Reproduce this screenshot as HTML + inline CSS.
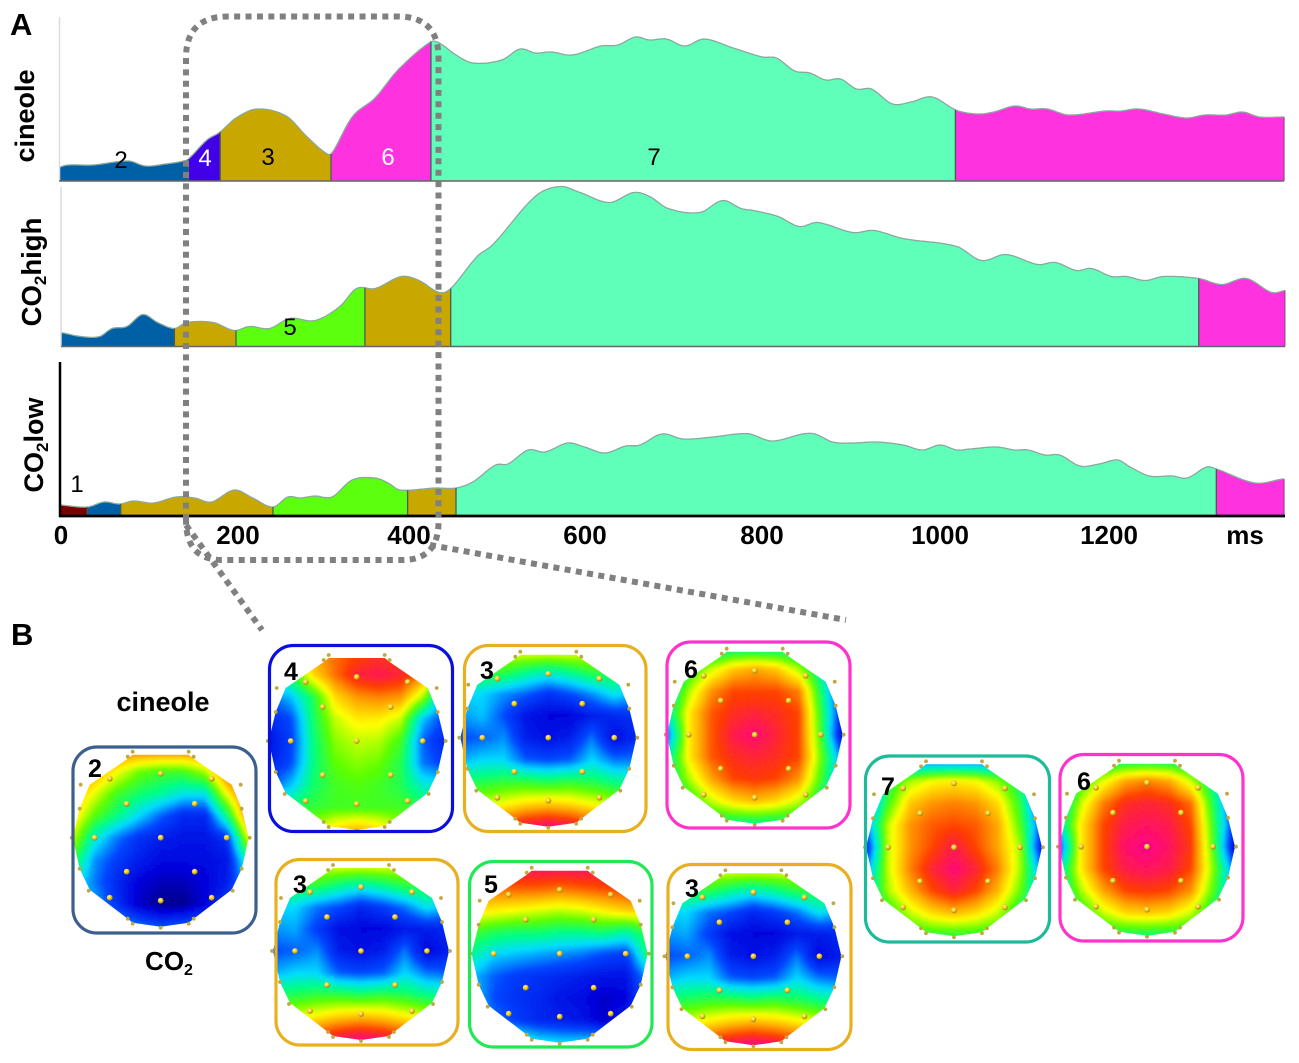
<!DOCTYPE html>
<html lang="en">
<head>
<meta charset="utf-8">
<title>ERP segments and topographic maps</title>
<style>
html,body{margin:0;padding:0;background:#fff;}
svg{display:block;font-family:"Liberation Sans",sans-serif;}
</style>
</head>
<body>
<svg id="figure" xmlns="http://www.w3.org/2000/svg" width="1299" height="1063" viewBox="0 0 1299 1063">
  <defs>
    <filter id="soften" x="-5%" y="-5%" width="110%" height="110%"><feGaussianBlur stdDeviation="1.3"/></filter>
    <filter id="softenLine" x="-2%" y="-2%" width="104%" height="104%"><feGaussianBlur stdDeviation="0.35"/></filter>
    <radialGradient id="dotInner" cx="40%" cy="35%" r="70%"><stop offset="0" stop-color="#fff6a0"/><stop offset="0.5" stop-color="#f0c820"/><stop offset="1" stop-color="#8a7010"/></radialGradient>
  </defs>
  <g id="panels"></g>
  <g id="axes">
    <line x1="59.5" y1="17" x2="59.5" y2="181" stroke="#dcdcdc" stroke-width="1.5"/>
    <line x1="61" y1="187" x2="61" y2="346" stroke="#dcdcdc" stroke-width="1.5"/>
    <line x1="60" y1="362" x2="60" y2="517" stroke="#000" stroke-width="2.5"/>
    <line x1="59" y1="181" x2="1284" y2="181" stroke="#666" stroke-width="1.5"/>
    <line x1="61" y1="346.5" x2="1285" y2="346.5" stroke="#666" stroke-width="1.5"/>
    <line x1="59" y1="516" x2="1285" y2="516" stroke="#000" stroke-width="2.8"/>
  </g>
  <g id="ticks" font-size="26" font-weight="700" text-anchor="middle"></g>
  <text x="1245" y="544" font-size="26" font-weight="700" text-anchor="middle">ms</text>

  <text x="10" y="35" font-size="31" font-weight="700">A</text>
  <text x="11" y="645" font-size="31" font-weight="700">B</text>

  <text transform="translate(34 116) rotate(-90)" font-size="27" font-weight="700" text-anchor="middle">cineole</text>
  <text transform="translate(41 272) rotate(-90)" font-size="27.5" font-weight="700" text-anchor="middle">CO<tspan font-size="17" dy="5">2</tspan><tspan dy="-5">high</tspan></text>
  <text transform="translate(43 445) rotate(-90)" font-size="27" font-weight="700" text-anchor="middle">CO<tspan font-size="17" dy="5">2</tspan><tspan dy="-5">low</tspan></text>

  <g font-size="24" text-anchor="middle">
    <text x="121" y="168">2</text>
    <text x="205" y="166" fill="#fff">4</text>
    <text x="268" y="165">3</text>
    <text x="388" y="165" fill="#fff">6</text>
    <text x="654" y="165">7</text>
    <text x="290" y="335">5</text>
    <text x="77" y="492">1</text>
  </g>

  <g fill="none" stroke="#808080" stroke-width="6" stroke-dasharray="6 5.4">
    <path d="M186 520 L186 58 Q186 16.5 228 16.5 L398 16.5 Q438.5 16.5 438.5 58 L438.5 522 Q438.5 560 402 560 L222 560 Q186 560 186 520"/>
    <line x1="186" y1="525" x2="262" y2="630"/>
    <line x1="430" y1="545" x2="846" y2="620"/>
  </g>

  <text x="163" y="711" font-size="27" font-weight="700" text-anchor="middle">cineole</text>
  <text x="169" y="970" font-size="26" font-weight="700" text-anchor="middle">CO<tspan font-size="16" dy="5">2</tspan></text>

  <g id="maps"></g>
</svg>

<script>
// ---------- waveform data (time in ms, amplitude in arbitrary units) ----------
const cineoleMs  = [0,9,37,78,97,120,141,146,167,182,200,224,257,281,302,309,332,358,384,421,431,450,469,502,523,540,558,582,615,634,654,670,689,710,732,765,798,814,835,852,870,887,905,922,946,967,991,1018,1042,1061,1085,1103,1122,1146,1188,1205,1226,1254,1280,1301,1325,1344,1363,1391];
const cineoleAmp = [7,8,8,10,7.5,8.5,10,11,20.5,24.5,31.5,36,32.5,22,14,14,32,41.5,55.5,69.5,69,63,59,60.5,66,64,64.5,63,67.5,68,72,70.5,71,67.5,71,66.5,62,61.5,55,54,50.5,51,46,46,38.5,39.5,42,35.5,33.5,34.5,37.5,36,36,33,35,35,36,33.5,31.5,33,33,34.5,32,32];
const cineoleBreaks = [0,146,182,308,421.5,1017.5,1391];
const cineoleStates = ["blue","purple","gold","magenta","teal","magenta"];

const highMs  = [1,24,45,59,76,94,111,130,144,174,198,215,238,261,290,318,337,358,388,408,431,444,474,492,540,568,591,624,652,670,691,727,753,774,788,816,840,861,901,925,958,1019,1047,1075,1111,1131,1155,1172,1195,1212,1233,1254,1294,1320,1348,1377,1392];
const highAmp = [7,5,5,9,10,16,12,9,12,12,8,10,9,14,13,20,29,29,35,33,27,29,45,51,75,80,77,72,77,75,69,67,73,69,68,65,60,62,57,58,54,50,43,46,41,42,38,39,35,35,33,35,34,31,34,27,28];
const highBreaks = [1,130,200,346.5,444,1294,1392];
const highStates = ["blue","gold","green","gold","teal","magenta"];

const lowMs  = [0,31,50,68,83,106,132,153,172,198,219,242,259,273,290,309,332,358,373,386,426,450,469,495,509,532,551,577,596,619,643,659,684,708,742,769,784,809,844,858,878,901,928,958,980,1000,1019,1034,1064,1085,1100,1119,1136,1159,1181,1202,1216,1238,1264,1281,1303,1314,1358,1389];
const lowAmp = [5.5,4.5,7,6,7.5,6.5,9.5,9,7,13,9,4.5,9.5,9,10,9.5,18,19,16.5,13,14,14,17,25.5,26,33,32,36.5,34.5,31.5,35,35.5,41,38.5,39.5,41,41,37.5,41,41,37,36.5,37,35.5,33,35.5,33,33.5,34.5,33,33,30.5,30.5,25,26,28,24.5,20,20,19,24.5,23.5,16.5,18.5];
const lowBreaks = [0,31,69,242,395,450,1314,1391];
const lowStates = ["darkred","blue","gold","green","gold","teal","magenta"];

const tickValues = [0,200,400,600,800,1000,1200];
const tickLabels = ["0","200","400","600","800","1000","1200"];

// ---------- topography data: 9x9 interpolated potential grids, 0 (navy) to 100 (pink) ----------
const grid2 = [
 [82,82,82,82,82,82,82,82,82],
 [80,76,66,56,52,52,60,84,88],
 [76,64,52,46,42,36,36,66,88],
 [70,54,44,34,24,16,16,44,84],
 [62,38,26,18,14,12,12,18,66],
 [50,28,20,14,10,10,10,12,44],
 [38,26,16,8,5,5,8,14,32],
 [36,30,18,6,1,1,8,20,36],
 [38,36,32,26,22,24,28,32,38]];
const grid4 = [
 [60,62,76,82,86,88,86,80,70],
 [40,48,70,82,92,95,92,80,40],
 [24,32,48,70,78,80,78,60,26],
 [16,22,46,62,68,68,62,32,20],
 [12,20,44,58,62,61,52,24,15],
 [14,22,44,55,58,56,48,26,20],
 [22,32,46,52,54,52,48,38,36],
 [42,46,50,52,52,52,52,48,46],
 [58,58,60,70,74,70,60,58,58]];
const grid3a = [
 [64,64,66,68,68,68,66,64,62],
 [48,50,50,44,40,44,50,50,46],
 [34,34,28,24,18,22,28,36,30],
 [28,32,22,12,9,9,14,16,18],
 [22,24,28,14,11,14,26,10,16],
 [30,34,34,24,22,24,34,26,26],
 [46,48,50,50,48,50,48,44,42],
 [65,62,66,70,72,70,66,62,60],
 [78,82,88,95,98,95,88,80,76]];
const grid6a = [
 [38,38,38,40,40,40,38,38,38],
 [32,48,62,72,76,72,60,40,20],
 [34,60,78,86,86,86,80,46,14],
 [38,68,84,90,92,90,86,50,14],
 [24,68,84,94,98,92,86,52,8],
 [38,68,84,90,92,90,86,56,24],
 [40,60,76,86,88,86,78,52,28],
 [28,48,62,70,74,70,62,45,26],
 [40,42,44,44,44,44,44,42,40]];
const grid3b = [
 [66,64,66,68,68,68,66,64,62],
 [48,50,50,44,40,44,50,50,46],
 [34,34,26,22,16,20,26,36,30],
 [28,30,20,11,9,9,13,14,16],
 [22,24,28,14,11,14,26,9,14],
 [30,34,34,24,22,24,34,26,24],
 [46,48,50,50,48,50,48,44,42],
 [66,64,68,72,74,72,68,64,62],
 [80,84,90,96,99,96,90,82,78]];
const grid5 = [
 [88,90,95,98,98,98,95,92,88],
 [82,82,84,84,82,84,86,88,90],
 [70,68,66,64,62,64,68,72,72],
 [52,48,46,46,44,44,46,42,50],
 [42,34,32,30,28,26,22,20,46],
 [32,24,20,18,16,14,12,12,30],
 [34,22,18,16,12,10,6,8,28],
 [40,26,20,16,14,12,6,14,30],
 [50,48,42,36,34,34,36,42,48]];
const grid3c = [
 [66,64,66,68,68,68,66,64,62],
 [48,50,50,44,40,44,50,50,46],
 [34,34,26,22,16,20,26,36,30],
 [28,30,20,11,9,9,13,14,16],
 [22,24,28,14,11,14,26,9,14],
 [30,34,34,24,22,24,34,26,24],
 [46,48,50,50,48,50,48,44,42],
 [66,64,68,72,74,72,68,64,62],
 [80,84,90,96,99,96,90,82,78]];
const grid7 = [
 [20,20,20,20,20,20,20,20,20],
 [16,46,60,66,68,66,58,44,16],
 [18,52,72,78,80,78,70,50,14],
 [26,62,78,84,86,84,76,54,20],
 [14,62,78,86,94,86,76,60,12],
 [26,62,80,92,98,92,80,60,26],
 [32,60,74,86,92,86,74,56,30],
 [30,48,62,70,74,70,62,45,30],
 [45,45,48,50,50,50,48,45,45]];
const grid6b = [
 [40,40,40,42,42,42,40,40,40],
 [30,50,64,76,80,76,62,42,24],
 [32,62,80,90,92,90,82,48,16],
 [36,68,86,94,96,94,86,52,16],
 [20,68,86,97,100,96,88,54,8],
 [36,68,86,94,96,94,86,58,24],
 [38,60,76,86,88,86,78,54,28],
 [28,48,62,70,72,70,62,45,26],
 [42,44,46,46,46,46,46,44,42]];

// ---------- scales and styles ----------
const NS = "http://www.w3.org/2000/svg";
const xZero = 60, xPerMs = 0.88, yPerUnit = 2;
function xScale(ms){ return xZero + ms * xPerMs; }
function yScale(amp, base){ return base - amp * yPerUnit; }
function tickNudge(v){ return v===1200 ? -7 : v===400 || v===600 ? -3 : v===200 ? 2 : v===800 ? -2 : v===0 ? 1 : 0; }
const stateFill = {blue:"#0060a6",purple:"#4200e6",gold:"#c8a802",magenta:"#ff33e0",teal:"#5fffb9",green:"#5cff10",darkred:"#7a0000"};

// Hermite curve through the read points
function valueAt(ms, xs, ys){
  if(ms <= xs[0]) return ys[0];
  const n = xs.length;
  if(ms >= xs[n-1]) return ys[n-1];
  let i = 0;
  while(xs[i+1] < ms) i++;
  const h = xs[i+1]-xs[i], t = (ms-xs[i])/h;
  const m0 = i>0 ? (ys[i+1]-ys[i-1])/(xs[i+1]-xs[i-1]) : (ys[1]-ys[0])/(xs[1]-xs[0]);
  const m1 = i<n-2 ? (ys[i+2]-ys[i])/(xs[i+2]-xs[i]) : (ys[n-1]-ys[n-2])/(xs[n-1]-xs[n-2]);
  const t2=t*t, t3=t2*t;
  return (2*t3-3*t2+1)*ys[i] + (t3-2*t2+t)*h*m0 + (-2*t3+3*t2)*ys[i+1] + (t3-t2)*h*m1;
}

function drawPanel(name, xs, ys, breaks, states, base){
  const root = document.getElementById("panels");
  const panel = document.createElementNS(NS,"g");
  
  
  panel.setAttribute("filter", "url(#softenLine)");
  root.appendChild(panel);
  for(let s=0; s<states.length; s++){
    const a = breaks[s], b = breaks[s+1];
    let top = [];
    for(let ms=a; ms<b; ms+=2){
      top.push(xScale(ms).toFixed(1)+","+yScale(valueAt(ms,xs,ys),base).toFixed(1));
    }
    top.push(xScale(b).toFixed(1)+","+yScale(valueAt(b,xs,ys),base).toFixed(1));
    const area = document.createElementNS(NS,"polygon");
    
    
    area.setAttribute("points", xScale(a).toFixed(1)+","+base+" "+top.join(" ")+" "+xScale(b).toFixed(1)+","+base);
    area.setAttribute("fill", stateFill[states[s]]);
    panel.appendChild(area);
    const edge = document.createElementNS(NS,"polyline");
    
    
    edge.setAttribute("points", top.join(" "));
    edge.setAttribute("fill", "none");
    edge.setAttribute("stroke", "#8aa89e");
    edge.setAttribute("stroke-width", "1.3");
    panel.appendChild(edge);
    if(s > 0){
      const divider = document.createElementNS(NS,"line");
      
      
      divider.setAttribute("x1", xScale(a));
      divider.setAttribute("x2", xScale(a));
      divider.setAttribute("y1", base);
      divider.setAttribute("y2", yScale(valueAt(a,xs,ys),base));
      divider.setAttribute("stroke", "#4a5a55");
      divider.setAttribute("stroke-width", "1.3");
      panel.appendChild(divider);
    }
  }
  const endLine = document.createElementNS(NS,"line");
  
  
  const last = breaks[breaks.length-1];
  endLine.setAttribute("x1", xScale(last));
  endLine.setAttribute("x2", xScale(last));
  endLine.setAttribute("y1", base);
  endLine.setAttribute("y2", yScale(valueAt(last,xs,ys),base));
  endLine.setAttribute("stroke", "#7a4a80");
  endLine.setAttribute("stroke-width", "1");
  panel.appendChild(endLine);
}
drawPanel("cineole", cineoleMs, cineoleAmp, cineoleBreaks, cineoleStates, 181);
drawPanel("co2high", highMs, highAmp, highBreaks, highStates, 346.5);
drawPanel("co2low", lowMs, lowAmp, lowBreaks, lowStates, 516);

tickValues.forEach(function(v,i){
  const t = document.createElementNS(NS,"text");
  
  
  t.setAttribute("x", xScale(v) + tickNudge(v));
  t.setAttribute("y", 544);
  t.textContent = tickLabels[i];
  document.getElementById("ticks").appendChild(t);
});

// ---------- topographic maps ----------
const colorStops = [[0,[0,0,130]],[8,[0,0,220]],[22,[0,70,255]],[34,[0,220,255]],[44,[0,255,130]],[55,[90,255,0]],[66,[255,255,0]],[77,[255,160,0]],[87,[255,60,0]],[100,[255,0,140]]];
function heatColor(v){
  v = Math.max(0, Math.min(100, v));
  for(let i=0;i<colorStops.length-1;i++){
    const a=colorStops[i], b=colorStops[i+1];
    if(v<=b[0]){
      const t=(v-a[0])/(b[0]-a[0]);
      return "rgb("+[0,1,2].map(function(k){return Math.round(a[1][k]+(b[1][k]-a[1][k])*t);}).join(",")+")";
    }
  }
  return "rgb(255,0,140)";
}
function gridValue(grid, dx, dy){
  const fx=Math.max(0,Math.min(7.999,(dx+88)/22)), fy=Math.max(0,Math.min(7.999,(dy+88)/22));
  const c=Math.floor(fx), r=Math.floor(fy), tx=fx-c, ty=fy-r;
  return grid[r][c]*(1-tx)*(1-ty)+grid[r][c+1]*tx*(1-ty)+grid[r+1][c]*(1-tx)*ty+grid[r+1][c+1]*tx*ty;
}
const scalpOutline = [[-28,-83],[28,-83],[33,-79],[71,-53],[81,-29],[88,0],[81,31],[71,52],[33,81],[28,85],[0,89],[-28,85],[-33,81],[-71,52],[-81,31],[-88,0],[-81,-29],[-71,-53],[-33,-79]];
const innerElectrodes = [[0,0],[-34,-34],[34,-34],[-34,34],[34,34],[-66,0],[66,0],[0,-64],[0,63],[-51,-59],[51,-59],[-51,60],[51,60]];
const outerElectrodes = [[-28,-86],[28,-86],[-33,-81],[33,-81],[-80,-53],[80,-53],[-81,-29],[81,-29],[-89,0],[89,0],[-81,31],[81,31],[-72,53],[72,53],[-33,81],[33,81],[-28,86],[28,86],[0,90]];
const mapLayouts = [
 {id:"map-2-co2-cineole",grid:grid2,cx:160.7,cy:837.7,fx:73,fy:747,fw:183,fh:186,stroke:"#3c5f8e",num:"2",nx:95,ny:777},
 {id:"map-4-cineole",grid:grid4,cx:356.7,cy:741,fx:269.5,fy:645.5,fw:183,fh:186,stroke:"#0a10dc",num:"4",nx:291,ny:680},
 {id:"map-3-cineole",grid:grid3a,cx:548.3,cy:737.7,fx:464.5,fy:645.5,fw:181.5,fh:186,stroke:"#e8b020",num:"3",nx:487,ny:679},
 {id:"map-6-cineole",grid:grid6a,cx:754.7,cy:734.7,fx:667,fy:642,fw:183,fh:186,stroke:"#ff33cc",num:"6",nx:691,ny:678},
 {id:"map-3-co2-first",grid:grid3b,cx:361,cy:951,fx:276,fy:859.5,fw:182,fh:185.5,stroke:"#e8b020",num:"3",nx:300,ny:893},
 {id:"map-5-co2",grid:grid5,cx:559.7,cy:953.7,fx:469.5,fy:861.5,fw:182.5,fh:185.5,stroke:"#22e855",num:"5",nx:491,ny:893},
 {id:"map-3-co2-second",grid:grid3c,cx:753.4,cy:956.3,fx:668,fy:864.5,fw:183,fh:185,stroke:"#e8b020",num:"3",nx:692,ny:897},
 {id:"map-7",grid:grid7,cx:954,cy:847.3,fx:865.5,fy:756,fw:184,fh:186,stroke:"#1dbb99",num:"7",nx:888,ny:795},
 {id:"map-6-late",grid:grid6b,cx:1147,cy:846.7,fx:1060,fy:754.5,fw:183,fh:186.5,stroke:"#ff33cc",num:"6",nx:1084,ny:790}
];
const mapsRoot = document.getElementById("maps");
mapLayouts.forEach(function(m, idx){
  const g = document.createElementNS(NS,"g");
  
  
  mapsRoot.appendChild(g);

  const clip = document.createElementNS(NS,"clipPath");
  clip.setAttribute("id", "scalp"+idx);
  const poly = document.createElementNS(NS,"polygon");
  poly.setAttribute("points", scalpOutline.map(function(p){return (m.cx+p[0])+","+(m.cy+p[1]);}).join(" "));
  clip.appendChild(poly);
  g.appendChild(clip);

  const clipped = document.createElementNS(NS,"g");
  clipped.setAttribute("clip-path", "url(#scalp"+idx+")");
  
  
  g.appendChild(clipped);
  const heat = document.createElementNS(NS,"g");
  heat.setAttribute("filter", "url(#soften)");
  heat.setAttribute("shape-rendering", "crispEdges");
  
  
  clipped.appendChild(heat);
  const step = 3;
  const x0 = Math.round(m.cx), y0 = Math.round(m.cy);
  for(let dy=-96; dy<96; dy+=step){
    for(let dx=-96; dx<96; dx+=step){
      const cell = document.createElementNS(NS,"rect");
      
      
      cell.setAttribute("x", x0+dx);
      cell.setAttribute("y", y0+dy);
      cell.setAttribute("width", step);
      cell.setAttribute("height", step);
      cell.setAttribute("fill", heatColor(gridValue(m.grid, dx+step/2, dy+step/2)));
      heat.appendChild(cell);
    }
  }

  outerElectrodes.forEach(function(p){
    const d = document.createElementNS(NS,"circle");
    
    
    d.setAttribute("cx", m.cx+p[0]);
    d.setAttribute("cy", m.cy+p[1]);
    d.setAttribute("r", 1.9);
    d.setAttribute("fill", "#c0a840");
    g.appendChild(d);
  });
  innerElectrodes.forEach(function(p){
    const d = document.createElementNS(NS,"circle");
    
    
    d.setAttribute("cx", m.cx+p[0]);
    d.setAttribute("cy", m.cy+p[1]);
    d.setAttribute("r", 2.9);
    d.setAttribute("fill", "url(#dotInner)");
    g.appendChild(d);
  });

  const frame = document.createElementNS(NS,"rect");
  
  
  frame.setAttribute("x", m.fx);
  frame.setAttribute("y", m.fy);
  frame.setAttribute("width", m.fw);
  frame.setAttribute("height", m.fh);
  frame.setAttribute("rx", 24);
  frame.setAttribute("ry", 24);
  frame.setAttribute("fill", "none");
  frame.setAttribute("stroke", m.stroke);
  frame.setAttribute("stroke-width", 3.2);
  g.appendChild(frame);

  const num = document.createElementNS(NS,"text");
  
  
  num.setAttribute("x", m.nx);
  num.setAttribute("y", m.ny);
  num.setAttribute("font-size", 25);
  num.setAttribute("font-weight", 700);
  num.setAttribute("text-anchor", "middle");
  num.textContent = m.num;
  g.appendChild(num);
});
</script>
</body>
</html>
